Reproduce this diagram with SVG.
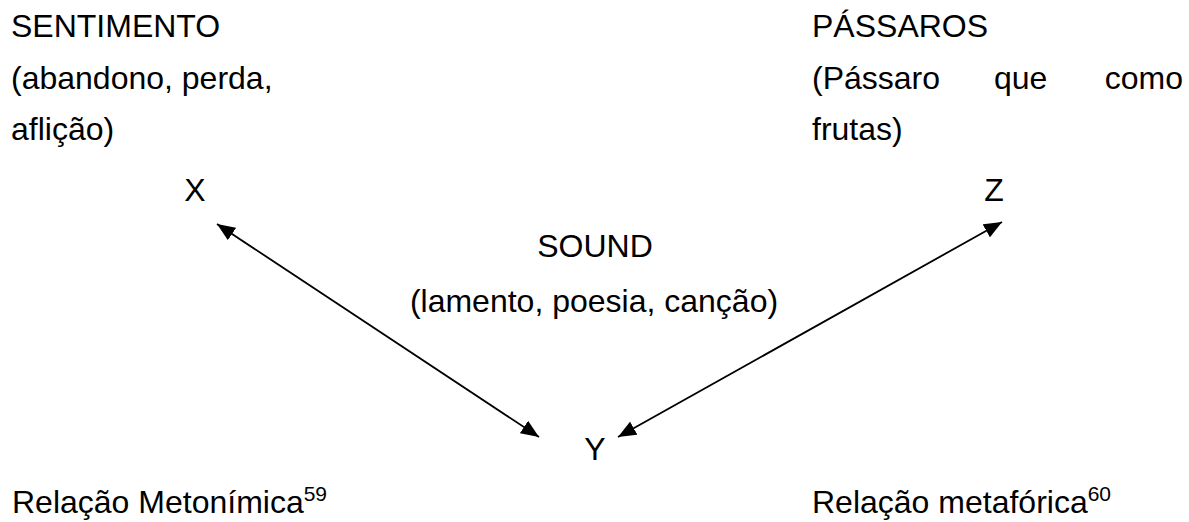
<svg xmlns="http://www.w3.org/2000/svg" width="1189" height="522" viewBox="0 0 1189 522">
  <style>
    text { font-family: "Liberation Sans", Arial, sans-serif; font-size: 32px; fill: #000; }
    .mid { text-anchor: middle; }
    .sup { font-size: 21px; }
    .link { stroke: #000; stroke-width: 1.8; fill: none; marker-start: url(#head); marker-end: url(#head); }
  </style>
  <defs>
    <marker id="head" viewBox="0 0 18 15" refX="18" refY="7.5" markerWidth="18" markerHeight="15" markerUnits="userSpaceOnUse" orient="auto-start-reverse">
      <path d="M0,0 L18,7.5 L0,15 Z" fill="#000"/>
    </marker>
  </defs>

  <rect width="1189" height="522" fill="#fff"/>

  <!-- concept X: feeling -->
  <g id="sentimento">
    <text x="11" y="37">SENTIMENTO</text>
    <text x="11" y="89">(abandono, perda,</text>
    <text x="11" y="140">aflição)</text>
    <text class="mid" x="195" y="201">X</text>
  </g>

  <!-- concept Z: birds -->
  <g id="passaros">
    <text x="812" y="37">PÁSSAROS</text>
    <text x="812" y="89">(Pássaro</text>
    <text x="994" y="89">que</text>
    <text x="1183" y="89" text-anchor="end">como</text>
    <text x="812" y="140">frutas)</text>
    <text class="mid" x="994" y="201">Z</text>
  </g>

  <!-- central concept: sound -->
  <g id="sound">
    <text class="mid" x="595" y="257">SOUND</text>
    <text class="mid" x="594" y="312">(lamento, poesia, canção)</text>
  </g>

  <!-- vertex Y -->
  <g id="y">
    <text class="mid" x="595" y="460">Y</text>
  </g>

  <!-- relation captions -->
  <g id="metonimica">
    <text x="12" y="513">Relação Metonímica<tspan class="sup" dy="-12">59</tspan></text>
  </g>
  <g id="metaforica">
    <text x="812" y="513">Relação metafórica<tspan class="sup" dy="-12">60</tspan></text>
  </g>

  <!-- connectors -->
  <g id="connectors">
    <line class="link" x1="217" y1="224" x2="539" y2="437"/>
    <line class="link" x1="1002" y1="222" x2="618" y2="437"/>
  </g>
</svg>
